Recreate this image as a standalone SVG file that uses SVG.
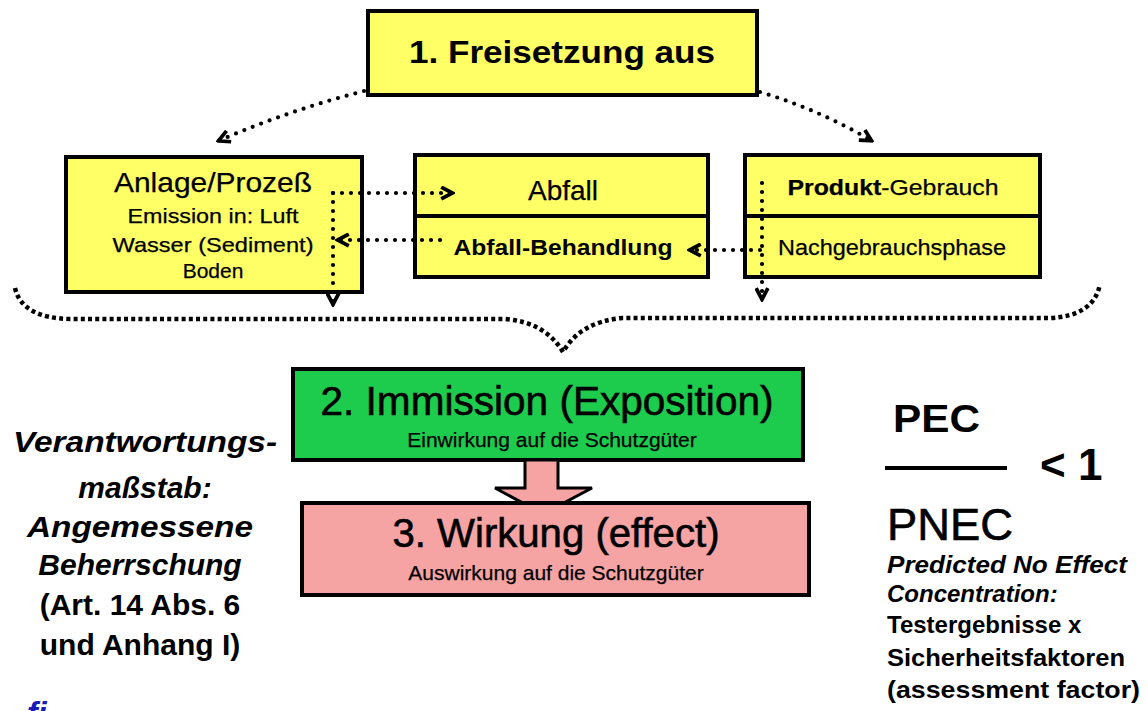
<svg xmlns="http://www.w3.org/2000/svg" width="1148" height="711" viewBox="0 0 1148 711">
<style>
text { font-family: "Liberation Sans", Arial, sans-serif; fill: #000; }
.box { stroke: #000; stroke-width: 4; }
.yel { fill: #FFFF66; }
.grn { fill: #1DCC4C; }
.pnk { fill: #F5A3A3; }
.dot { fill: none; stroke: #000; stroke-width: 4.2; stroke-linecap: round; stroke-dasharray: 0 9; }
.brace { fill: none; stroke: #000; stroke-width: 4.5; stroke-dasharray: 4 3.2; }
.b { font-weight: bold; }
.bi { font-weight: bold; font-style: italic; }
.big { stroke: #000; stroke-width: 0.6; }
.med { stroke: #000; stroke-width: 0.25; }
</style>
<defs>
<marker id="chev" viewBox="0 0 14 14" refX="12.5" refY="7" markerWidth="15" markerHeight="15" markerUnits="userSpaceOnUse" orient="auto">
<path d="M1.5,1.5 L12,7 L1.5,12.5" fill="none" stroke="#000" stroke-width="3.5" stroke-linejoin="miter"/>
</marker>
</defs>

<g id="connectors">
<path class="dot" d="M364,91 Q290,110 218,141" marker-end="url(#chev)"/>
<path class="dot" d="M760,92 Q820,110 872,141" marker-end="url(#chev)"/>
<path class="brace" d="M15,288 Q22,318 70,319 L505,319 Q545,322 563,352 Q580,322 622,318 L1050,318 Q1094,316 1100,284"/>
</g>

<g id="node-freisetzung">
<rect class="box yel" x="368" y="11" width="389" height="84"/>
<text class="b" x="562" y="63" font-size="31" text-anchor="middle" textLength="306" lengthAdjust="spacingAndGlyphs">1. Freisetzung aus</text>
</g>

<g id="node-anlage">
<rect class="box yel" x="66" y="157" width="296" height="135"/>
<text class="med" x="213" y="192" font-size="28" text-anchor="middle" textLength="198" lengthAdjust="spacingAndGlyphs">Anlage/Prozeß</text>
<text class="med" x="213" y="223" font-size="21" text-anchor="middle" textLength="171" lengthAdjust="spacingAndGlyphs">Emission in: Luft</text>
<text class="med" x="213" y="252" font-size="21" text-anchor="middle" textLength="201" lengthAdjust="spacingAndGlyphs">Wasser (Sediment)</text>
<text class="med" x="213" y="278" font-size="21" text-anchor="middle">Boden</text>
</g>

<g id="node-abfall">
<rect class="box yel" x="415" y="155" width="293" height="122"/>
<line x1="415" y1="216" x2="708" y2="216" stroke="#000" stroke-width="4"/>
<text class="med" x="563" y="200" font-size="28" text-anchor="middle">Abfall</text>
<text class="b" x="563" y="255" font-size="22" text-anchor="middle" textLength="219" lengthAdjust="spacingAndGlyphs">Abfall-Behandlung</text>
</g>

<g id="node-produkt">
<rect class="box yel" x="745" y="155" width="295" height="122"/>
<line x1="745" y1="216" x2="1040" y2="216" stroke="#000" stroke-width="4"/>
<text class="med" x="893" y="195" font-size="22" text-anchor="middle" textLength="211" lengthAdjust="spacingAndGlyphs"><tspan class="b">Produkt</tspan>-Gebrauch</text>
<text class="med" x="892" y="255" font-size="22" text-anchor="middle" textLength="228" lengthAdjust="spacingAndGlyphs">Nachgebrauchsphase</text>
</g>

<g id="inner-connectors">
<path class="dot" d="M333,193 L453,193" marker-end="url(#chev)"/>
<path class="dot" d="M333,193 L333,305" marker-end="url(#chev)"/>
<path class="dot" d="M440,240 L337,240" marker-end="url(#chev)"/>
<path class="dot" d="M762,183 L762,300" marker-end="url(#chev)"/>
<path class="dot" d="M760,250 L689,250" marker-end="url(#chev)"/>
</g>

<g id="node-immission">
<rect class="box grn" x="293" y="369" width="510" height="91"/>
<text class="big" x="547" y="415" font-size="41" text-anchor="middle" textLength="453" lengthAdjust="spacingAndGlyphs">2. Immission (Exposition)</text>
<text class="med" x="552" y="447" font-size="21" text-anchor="middle">Einwirkung auf die Schutzgüter</text>
</g>

<g id="block-arrow">
<polygon points="525,460 558,460 558,488 592,488 543,514 495,488 525,488" fill="#F5A3A3" stroke="#000" stroke-width="3" stroke-linejoin="miter"/>
</g>

<g id="node-wirkung">
<rect class="box pnk" x="302" y="503" width="507" height="92"/>
<text class="big" x="556" y="547" font-size="40" text-anchor="middle" textLength="327" lengthAdjust="spacingAndGlyphs">3. Wirkung (effect)</text>
<text class="med" x="556" y="580" font-size="21" text-anchor="middle">Auswirkung auf die Schutzgüter</text>
</g>

<g id="left-text" font-size="30" text-anchor="middle">
<text class="bi" x="145" y="452" textLength="264" lengthAdjust="spacingAndGlyphs">Verantwortungs-</text>
<text class="bi" x="145" y="498">maßstab:</text>
<text class="bi" x="140" y="537" textLength="226" lengthAdjust="spacingAndGlyphs">Angemessene</text>
<text class="bi" x="140" y="575">Beherrschung</text>
<text class="b" x="140" y="615">(Art. 14 Abs. 6</text>
<text class="b" x="140" y="655">und Anhang I)</text>
</g>
<text class="bi" x="27" y="724" font-size="32" style="fill:#1A1AB4">fi</text>

<g id="formula">
<text class="b" x="893" y="432" font-size="38" textLength="87" lengthAdjust="spacingAndGlyphs">PEC</text>
<line x1="885" y1="468" x2="1007" y2="468" stroke="#000" stroke-width="4"/>
<text class="b" x="1040" y="480" font-size="44">&lt; 1</text>
<text class="big" x="887" y="540" font-size="44" textLength="126" lengthAdjust="spacingAndGlyphs">PNEC</text>
<text class="bi" x="887" y="573" font-size="24" textLength="240" lengthAdjust="spacingAndGlyphs">Predicted No Effect</text>
<text class="bi" x="887" y="602" font-size="24">Concentration:</text>
<text class="b" x="887" y="633" font-size="24">Testergebnisse x</text>
<text class="b" x="887" y="666" font-size="24" textLength="238" lengthAdjust="spacingAndGlyphs">Sicherheitsfaktoren</text>
<text class="b" x="887" y="698" font-size="24" textLength="253" lengthAdjust="spacingAndGlyphs">(assessment factor)</text>
</g>
</svg>
